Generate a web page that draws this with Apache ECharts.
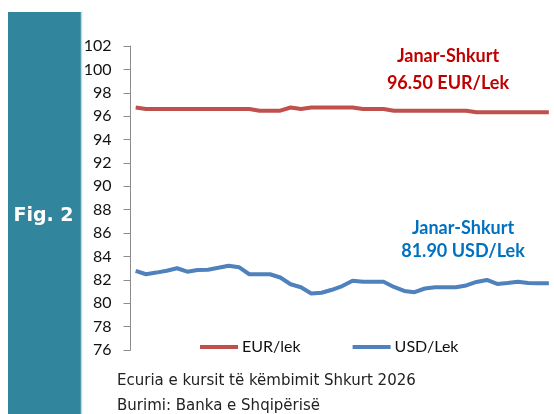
<!DOCTYPE html>
<html>
<head>
<meta charset="utf-8">
<script src="https://cdn.jsdelivr.net/npm/echarts@6/dist/echarts.min.js"></script>
<style>
html,body{margin:0;padding:0;background:#fff;}
#c{width:554px;height:414px;}
</style>
</head>
<body>
<div id="c"></div>
<script>
const days = ['1','2','3','4','5','6','7','8','9','10','11','12','13','14','15','16','17','18','19','20','21','22','23','24','25','26','27','28','29','30','31','32','33','34','35','36','37','38','39','40','41'];
const eurLek = [96.74,96.62,96.62,96.62,96.62,96.62,96.62,96.62,96.62,96.62,96.62,96.62,96.47,96.47,96.47,96.74,96.62,96.74,96.74,96.74,96.74,96.74,96.62,96.62,96.62,96.47,96.47,96.47,96.47,96.47,96.47,96.47,96.47,96.33,96.33,96.33,96.33,96.33,96.33,96.33,96.33];
const usdLek = [82.76,82.48,82.62,82.78,82.99,82.70,82.84,82.87,83.03,83.21,83.08,82.48,82.48,82.48,82.20,81.62,81.37,80.83,80.90,81.15,81.47,81.92,81.84,81.84,81.84,81.39,81.05,80.94,81.26,81.36,81.36,81.36,81.52,81.82,81.99,81.65,81.73,81.84,81.73,81.71,81.71];
const yTicks = {min: 76, max: 102, step: 2};
const seriesNames = ['EUR/lek', 'USD/Lek'];
const noteEur = ['Janar-Shkurt', '96.50 EUR/Lek'];
const noteUsd = ['Janar-Shkurt', '81.90 USD/Lek'];
const figLabel = 'Fig. 2';
const footer = ['Ecuria e kursit të këmbimit Shkurt 2026', 'Burimi: Banka e Shqipërisë'];

const chart = echarts.init(document.getElementById('c'), null, {renderer: 'canvas'});
chart.setOption({
  animation: false,
  backgroundColor: '#ffffff',
  grid: {left: 130.5, right: -13, top: 46, bottom: 64, containLabel: false},
  xAxis: {
    type: 'category', data: days, boundaryGap: true,
    axisLine: {show: false}, axisTick: {show: false}, axisLabel: {show: false}, splitLine: {show: false}
  },
  yAxis: {
    type: 'value', min: yTicks.min, max: yTicks.max, interval: yTicks.step,
    axisLine: {show: true, lineStyle: {color: '#8c8c8c', width: 1}},
    axisTick: {show: true, inside: false, length: 7, lineStyle: {color: '#8c8c8c'}},
    axisLabel: {color: '#111', fontFamily: 'Lato', fontSize: 16, margin: 19},
    splitLine: {show: false}
  },
  legend: {
    data: seriesNames, left: 195, top: 334, itemWidth: 38, itemHeight: 4, itemGap: 52,
    icon: 'rect',
    textStyle: {fontFamily: 'Lato', fontSize: 16, color: '#111', padding: [0,0,0,-1]}
  },
  series: [
    {name: seriesNames[0], type: 'line', data: eurLek, showSymbol: false, symbol: 'none',
     lineStyle: {color: '#c0504d', width: 4}, itemStyle: {color: '#c0504d'}},
    {name: seriesNames[1], type: 'line', data: usdLek, showSymbol: false, symbol: 'none',
     lineStyle: {color: '#4f81bd', width: 4}, itemStyle: {color: '#4f81bd'}}
  ],
  graphic: [
    {type: 'rect', shape: {x: 8, y: 12, width: 73, height: 402}, style: {fill: '#31859c'}, z: 0},
    {type: 'line', shape: {x1: 81.5, y1: 12, x2: 81.5, y2: 414}, style: {stroke: '#b7dee8', lineWidth: 1.5}},
    {type: 'text', x: 43.5, y: 216, style: {text: figLabel, fill: '#ffffff', font: 'bold 19px "DejaVu Sans"', textAlign: 'center', textVerticalAlign: 'middle'}},
    {type: 'text', x: 448, y: 56, style: {text: noteEur[0], fill: '#c00000', font: 'bold 18px Lato', textAlign: 'center', textVerticalAlign: 'middle'}},
    {type: 'text', x: 448, y: 83, style: {text: noteEur[1], fill: '#c00000', font: 'bold 18px Lato', textAlign: 'center', textVerticalAlign: 'middle'}},
    {type: 'text', x: 463, y: 228, style: {text: noteUsd[0], fill: '#0070c0', font: 'bold 18px Lato', textAlign: 'center', textVerticalAlign: 'middle'}},
    {type: 'text', x: 463, y: 251, style: {text: noteUsd[1], fill: '#0070c0', font: 'bold 18px Lato', textAlign: 'center', textVerticalAlign: 'middle'}},
    {type: 'text', x: 117, y: 381, style: {text: footer[0], fill: '#222', font: '15px "DejaVu Sans"', textAlign: 'left', textVerticalAlign: 'middle'}},
    {type: 'text', x: 117, y: 406, style: {text: footer[1], fill: '#222', font: '15px "DejaVu Sans"', textAlign: 'left', textVerticalAlign: 'middle'}}
  ]
});
</script>
</body>
</html>
